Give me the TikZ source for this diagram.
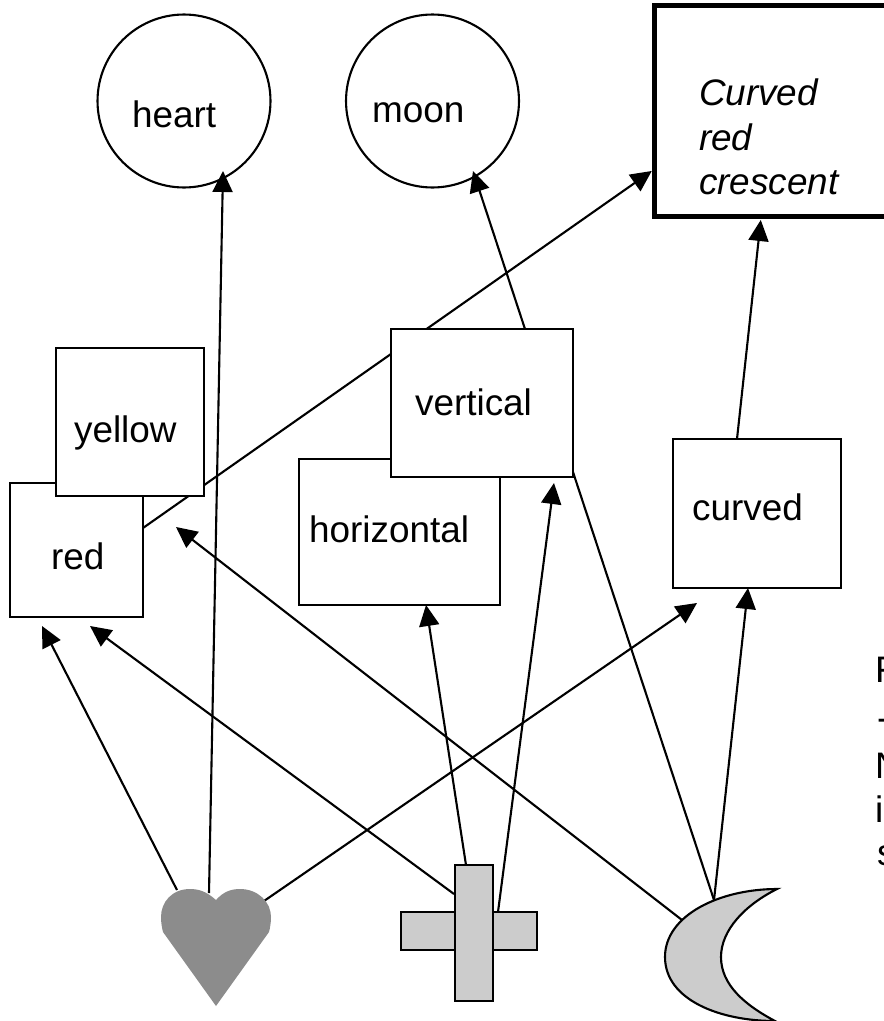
\documentclass[tikz,border=0pt]{standalone}
\usepackage{fontspec}
\setmainfont{Liberation Sans}
\usetikzlibrary{arrows.meta,backgrounds}
\definecolor{heartgray}{HTML}{8C8C8C}
\definecolor{symgray}{HTML}{CCCCCC}
\tikzset{
    wire/.style={line width=1.2pt},
    conn/.style={wire,-{Triangle[length=0.42cm,width=0.4cm]}},
    concept/.style={draw,circle,inner sep=0,outer sep=0,minimum size=3.46cm},
    feature/.style={draw,fill=white,inner sep=0,outer sep=0},
    crossbar/.style={draw,fill=symgray,line width=1.5pt,inner sep=0,outer sep=0},
    lbl/.style={anchor=base west,inner sep=0,font=\fontsize{21}{25}\selectfont}
}
\begin{document}
\begin{tikzpicture}[x=0.02cm,y=-0.02cm,line width=1.2pt]
            \useasboundingbox (0,0) rectangle (884,1021);
            \node[concept] (heart) at (184,101) {};
            \node[concept] (moon) at (432.5,101) {};
            \node[lbl] (heartlbl) at (131,127) {heart};
            \node[lbl] (moonlbl) at (371,122) {moon};
            % crescent box runs off the page
            \node[feature,line width=0.11cm,minimum width=4.91cm,minimum height=4.22cm] (crescent) at (777,111) {};
            \node[lbl] (crescentlbl1) at (698,105) {\itshape Curved};
            \node[lbl] (crescentlbl2) at (698,150) {\itshape red};
            \node[lbl] (crescentlbl3) at (698,194) {\itshape crescent};
            \node[feature,minimum width=2.66cm,minimum height=2.68cm] (red) at (76.5,550) {};
            \node[feature,minimum width=2.96cm,minimum height=2.96cm] (yellow) at (130,422) {};
            \node[feature,minimum width=4.02cm,minimum height=2.92cm] (horizontal) at (399.5,532) {};
            \node[feature,minimum width=3.64cm,minimum height=2.96cm] (vertical) at (482,403) {};
            \node[feature,minimum width=3.36cm,minimum height=2.98cm] (curved) at (757,513.5) {};
            \node[lbl] (redlbl) at (50,569) {red};
            \node[lbl] (yellowlbl) at (73,442) {yellow};
            \node[lbl] (horizontallbl) at (308,542) {horizontal};
            \node[lbl] (verticallbl) at (414,415) {vertical};
            \node[lbl] (curvedlbl) at (691,520) {curved};
            % cut off text at the right edge
            \node[lbl] (side1) at (874,682) {F};
            \node[lbl] (side2) at (876,730) {-};
            \node[lbl] (side3) at (874,778) {N};
            \node[lbl] (side4) at (874,822) {i};
            \node[lbl] (side5) at (876,865) {s};
            % the three symbols
            \fill[heartgray] (216,900) .. controls (206,891) and (198,889) .. (190,889) .. controls (172,889) and (161,902) .. (161,917) .. controls (161,923) and (162,928) .. (163,932) -- (216,1006) -- (269,932) .. controls (270,928) and (271,923) .. (271,917) .. controls (271,902) and (258,889) .. (240,889) .. controls (232,889) and (224,891) .. (216,900) -- cycle;
            \coordinate (heartsym) at (216,900);
            \node[crossbar,minimum width=2.72cm,minimum height=0.76cm] (crossh) at (469,931) {};
            \node[crossbar,minimum width=0.76cm,minimum height=2.72cm] (crossv) at (474,933) {};
            \draw[fill=symgray] (777,889) .. controls (720,889) and (665,915) .. (665,957) .. controls (665,1000) and (720,1021) .. (775,1021) .. controls (745,1005) and (721,985) .. (721,957) .. controls (721,930) and (745,905) .. (777,889) -- cycle;
            \coordinate (moonsym) at (714,900);
            \begin{pgfonlayer}{background}
                \draw[conn] ([shift={(-39,-10)}]heartsym) -- ([shift={(32,9)}]red.south west);
                \draw[conn] ([shift={(-7,-7)}]heartsym) -- ([shift={(39,70)}]heart.center);
                \draw[conn] ([shift={(48,1)}]heartsym) -- ([shift={(24,15)}]curved.south west);
                \draw[conn] ([shift={(-8,0)}]crossv.north) -- ([shift={(127,0)}]horizontal.south west);
                \draw[conn] ([shift={(-1,-39)}]crossv.west) -- ([shift={(80,9)}]red.south west);
                \draw[conn] ([shift={(5,-21)}]crossv.east) -- ([shift={(-19,6)}]vertical.south east);
                \draw[conn] ([shift={(-32,20)}]moonsym) -- ([shift={(-28,31)}]yellow.south east);
                \draw[wire] (moonsym) -- ([shift={(0,-5)}]vertical.south east);
                \draw[conn] (moonsym) -- ([shift={(75,0)}]curved.south west);
                \draw[conn] ([shift={(0,-22)}]red.east) -- ([shift={(-2.5,-45.5)}]crescent.south west);
                \draw[conn] ([shift={(43,0)}]vertical.north) -- ([shift={(40.5,70)}]moon.center);
                \draw[conn] ([shift={(-20,0)}]curved.north) -- ([shift={(106.5,3.5)}]crescent.south west);
            \end{pgfonlayer}
        \end{tikzpicture}
\end{document}
